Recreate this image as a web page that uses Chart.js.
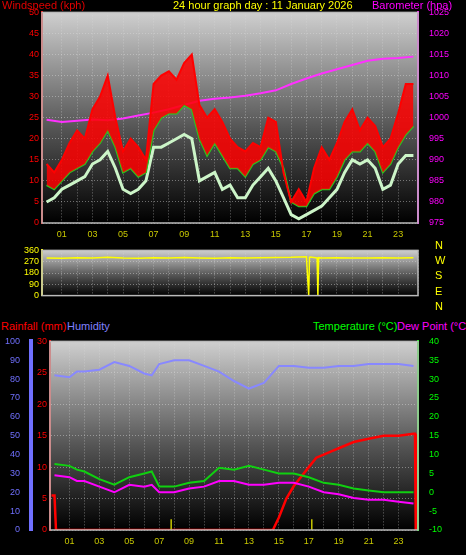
<!DOCTYPE html>
<html><head><meta charset="utf-8">
<script src="https://cdn.jsdelivr.net/npm/chart.js@4/dist/chart.umd.min.js"></script>
<style>
body{margin:0;background:#000;width:466px;height:555px;overflow:hidden;position:relative;font-family:"Liberation Sans",Arial,sans-serif}
canvas{position:absolute;left:0}
.t{position:absolute;font-size:11px;white-space:nowrap}
</style></head><body>
<canvas id="c1"></canvas><canvas id="c2"></canvas><canvas id="c3"></canvas>
<div class="t" style="left:2px;top:-1px;color:#e00000">Windspeed (kph)</div>
<div class="t" style="left:173px;top:-1px;color:#ffff00">24 hour graph day : 11 January 2026</div>
<div class="t" style="left:372px;top:-1px;color:#ff00ff">Barometer (hpa)</div>
<div class="t" style="left:435px;top:238px;color:#ffff00;font-size:11px;line-height:15.2px">N<br>W<br>S<br>E<br>N</div>
<div class="t" style="left:1px;top:320px;color:#ff0000">Rainfall (mm)</div>
<div class="t" style="left:67px;top:320px;color:#8080ff">Humidity</div>
<div class="t" style="left:313px;top:320px;color:#00ff00">Temperature (°C)</div>
<div class="t" style="left:397px;top:320px;color:#ff00ff">Dew Point (°C)</div>
<script>
const hours=[0,0.5,1,1.5,2,2.5,3,3.5,4,4.5,5,5.5,6,6.5,7,7.5,8,8.5,9,9.5,10,10.5,11,11.5,12,12.5,13,13.5,14,14.5,15,15.5,16,16.5,17,17.5,18,18.5,19,19.5,20,20.5,21,21.5,22,22.5,23,23.5,24];
const windGust=[14,12,15,19,22,20,27,30,35,25,17,20,18,15,33,35,36,34,38,40,28,25,27,24,20,18,17,19,18,25,24,12,5,8,5,13,18,15,19,24,27,22,25,23,18,20,26,33,33];
const windSpeed=[5,6,8,9,10,11,14,15,17,13,8,7,8,10,18,18,19,20,21,20,10,11,12,8,9,6,6,9,11,13,10,6,2,1,2,3,4,6,8,12,15,14,15,13,8,9,14,16,16];
const windAvg=[9,8,10,12,13,14,17,19,22,18,12,13,11,12,22,25,26,26,28,27,20,16,19,16,13,13,11,14,15,18,17,13,5,4,4,7,8,8,11,15,17,17,19,17,12,14,18,21,23];
const baroHours=[0,1,2,3,4,5,6,7,8,9,10,11,12,13,14,15,16,17,18,19,20,21,22,23,24];
const baro=[999.5,999,999.3,999.6,999.4,999.8,1000.5,1001.2,1002,1003,1004,1004.5,1004.8,1005.2,1005.8,1006.5,1008,1009.3,1010.5,1011.5,1012.5,1013.5,1014,1014.2,1014.5];
const dirHours=[0,1,2,3,4,5,6,7,8,9,10,11,12,13,14,15,16,17,17.15,17.2,17.25,17.7,17.75,17.8,18,19,20,21,22,23,24];
const windDir=[300,298,302,300,305,300,298,302,300,303,300,298,302,300,301,303,305,310,0,305,308,300,0,302,300,301,299,300,302,300,301];
const climHours=[0,1,1.5,2,3,4,5,6,6.5,7,8,9,10,11,12,13,14,15,16,17,18,19,20,21,22,23,24];
const humidity=[82,81,84,84,85,89,87,83,82,88,90,90,87,84,79,75,78,87,87,86,86,87,87,88,88,88,87];
const temperature=[7.5,7,6,5.5,3.5,2,4,5,5.5,1.5,1.5,2.5,3,6.5,6,7,6,5,5,4,2.5,2,1,0.5,0,0,0];
const dewPoint=[4.5,4,3,3,1.5,0,2,1.5,2,0,0,1,1.5,3,3,2,2,2.5,2.5,1.5,0,-0.5,-1.5,-2,-2,-2.5,-3];
const rainHours=[-0.2,0,0.1,14.6,15,15.5,16,17,17.5,18,18.5,19,20,21,22,23,24,24.1,24.15];
const rainfall=[5.5,5.5,0,0,2,5,7,10,11.5,12,12.5,13,14,14.5,15,15,15.3,15.3,0];
const strikeHours=[7.8,17.2];

const xy=(xs,ys)=>xs.map((x,i)=>({x,y:ys[i]}));
const bg={id:'bg',beforeDraw(c){const a=c.chartArea,x=c.ctx;const g=x.createLinearGradient(0,a.top,0,a.bottom);g.addColorStop(0,'#cfcfcf');g.addColorStop(0.55,'#555');g.addColorStop(1,'#000');x.save();x.fillStyle=g;x.fillRect(a.left,a.top,a.right-a.left,a.bottom-a.top);x.restore();},
 afterDraw(c){const a=c.chartArea,x=c.ctx;x.save();x.strokeStyle='#bbb';x.lineWidth=1.5;x.strokeRect(a.left,a.top,a.right-a.left,a.bottom-a.top);x.restore();}};
const font={family:'"Liberation Sans",Arial,sans-serif',size:9};
const grid={color:'rgba(220,220,220,0.45)',drawTicks:false};
function xAxis(labels){return {type:'linear',min:-0.3,max:24.3,afterFit:s=>{s.height=labels?16:6},
 grid:{...grid},border:{display:false,dash:[1,2]},
 ticks:{display:labels,stepSize:1,autoSkip:false,color:'#c8c800',font,padding:6,maxRotation:0,
 callback:v=>(v%2===1&&v>0&&v<24)?String(v).padStart(2,'0'):''}};}
function yAxis(pos,min,max,step,color,w,extra){return Object.assign({position:pos,min,max,afterFit:s=>{s.width=w},
 grid:{display:false,drawOnChartArea:false},border:{display:true,color,width:2},
 ticks:{stepSize:step,autoSkip:false,color,font,padding:3,callback:v=>String(v)}},extra||{});}
function canvas(id,top,h){const e=document.getElementById(id);e.width=466;e.height=h;e.style.top=top+'px';return e;}
const base={responsive:false,animation:false,plugins:{legend:{display:false},tooltip:{enabled:false}},elements:{point:{radius:0}},layout:{padding:{top:2,bottom:0,left:0,right:0}}};

new Chart(canvas('c1',4,235),{type:'line',plugins:[bg],data:{datasets:[
 {data:xy(hours,windGust),borderColor:'#ff0000',backgroundColor:'rgba(255,0,0,0.85)',borderWidth:2,fill:1,yAxisID:'y'},
 {data:xy(hours,windAvg),borderColor:'#20d020',borderWidth:2,fill:false,yAxisID:'y'},
 {data:xy(hours,windSpeed),borderColor:'#ccf5c8',borderWidth:3,fill:false,yAxisID:'y'},
 {data:xy(baroHours,baro),borderColor:'#ff30ff',borderWidth:2,yAxisID:'y2'}]},
 options:{...base,scales:{x:xAxis(true),
 y:{...yAxis('left',0,50,5,'#ff0000',42),grid:{color:'rgba(220,220,220,0.45)',drawTicks:false},border:{color:'#ff0000',width:2,dash:[1,2]}},
 y2:yAxis('right',975,1025,5,'#ff00ff',48)}}});

new Chart(canvas('c2',242,62),{type:'line',plugins:[bg],data:{datasets:[
 {data:xy(dirHours,windDir),borderColor:'#ffff00',borderWidth:1.5,yAxisID:'y'}]},
 options:{...base,scales:{x:xAxis(false),
 y:{...yAxis('left',0,360,90,'#ffff00',42),grid:{color:'rgba(220,220,220,0.45)',drawTicks:false},border:{color:'#ffff00',width:2,dash:[1,2]}},
 y2:{...yAxis('right',0,360,90,'#000',48),ticks:{display:false},border:{display:false}}}}});

const strikes=strikeHours.map(h=>({data:[{x:h,y:0},{x:h,y:1.7}],borderColor:'#c8c800',borderWidth:1.5,yAxisID:'rain'}));
new Chart(canvas('c3',333,217),{type:'line',plugins:[bg],data:{datasets:[
 {data:xy(climHours,humidity),borderColor:'#8888ff',borderWidth:2,yAxisID:'hum'},
 {data:xy(climHours,temperature),borderColor:'#10d010',borderWidth:2,yAxisID:'temp'},
 {data:xy(climHours,dewPoint),borderColor:'#ff00ff',borderWidth:2,yAxisID:'temp'},
 ...strikes,
 {data:xy(rainHours,rainfall),borderColor:'#ff0000',borderWidth:2.5,yAxisID:'rain'}]},
 options:{...base,scales:{x:{...xAxis(true),afterFit:s=>{s.height=20}},
 hum:{...yAxis('left',0,100,10,'#7070ff',31),weight:2,border:{color:'#7070ff',width:4}},
 rain:{...yAxis('left',0,30,5,'#ff0000',19),weight:1,grid:{color:'rgba(220,220,220,0.45)',drawTicks:false},border:{color:'#ff0000',width:2,dash:[1,2]}},
 temp:yAxis('right',-10,40,5,'#00ff00',48)}}});
</script></body></html>
